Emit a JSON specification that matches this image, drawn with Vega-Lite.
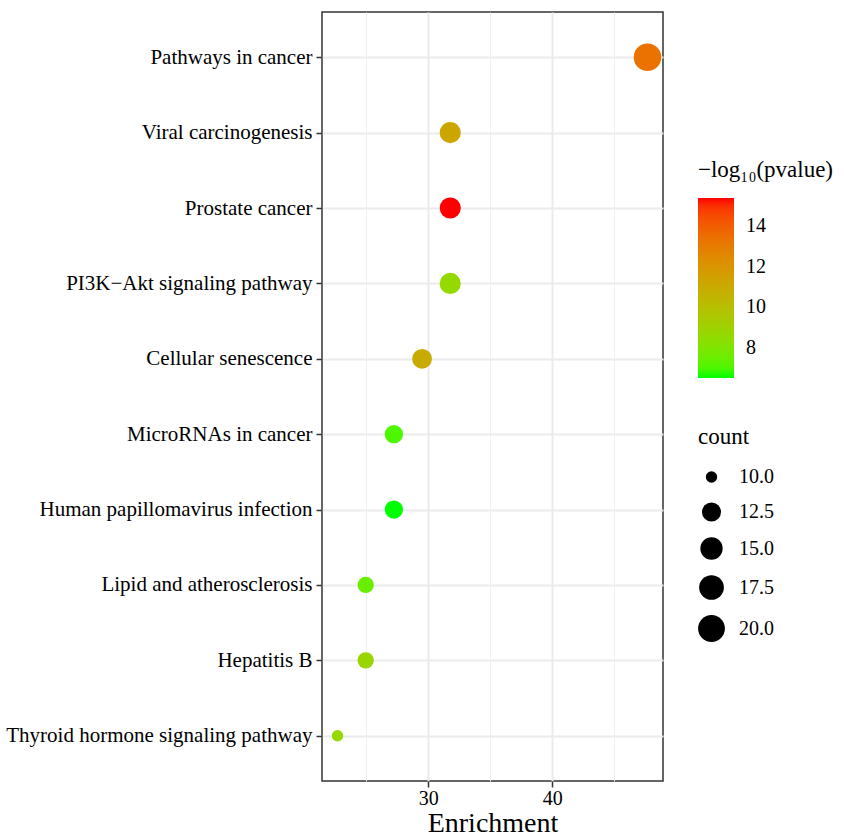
{
  "$schema": "https://vega.github.io/schema/vega-lite/v6.json",
  "autosize": {"type": "none"},
  "width": 341,
  "height": 769,
  "padding": {"left": 322, "top": 12, "right": 181, "bottom": 57},
  "background": "white",
  "config": {
    "font": "Liberation Serif",
    "view": {"stroke": "#333333", "strokeWidth": 1.5},
    "axis": {
      "labelFont": "Liberation Serif",
      "titleFont": "Liberation Serif",
      "labelColor": "#000000",
      "titleColor": "#000000",
      "labelFontSize": 20,
      "domain": false,
      "tickColor": "#333333",
      "tickWidth": 1.5,
      "tickSize": 6,
      "gridColor": "#EBEBEB",
      "gridWidth": 2
    },
    "legend": {
      "labelFont": "Liberation Serif",
      "titleFont": "Liberation Serif",
      "labelFontSize": 20,
      "titleFontSize": 22,
      "titleFontWeight": "normal",
      "labelColor": "#000000",
      "titleColor": "#000000"
    }
  },
  "data": {
    "values": [
      {"pathway": "Pathways in cancer", "enrichment": 47.67, "count": 21, "logp": 13.4},
      {"pathway": "Viral carcinogenesis", "enrichment": 31.78, "count": 14, "logp": 11.2},
      {"pathway": "Prostate cancer", "enrichment": 31.78, "count": 14, "logp": 15.4},
      {"pathway": "PI3K−Akt signaling pathway", "enrichment": 31.78, "count": 14, "logp": 8.6},
      {"pathway": "Cellular senescence", "enrichment": 29.51, "count": 13, "logp": 11.0},
      {"pathway": "MicroRNAs in cancer", "enrichment": 27.24, "count": 12, "logp": 7.0},
      {"pathway": "Human papillomavirus infection", "enrichment": 27.24, "count": 12, "logp": 6.52},
      {"pathway": "Lipid and atherosclerosis", "enrichment": 24.97, "count": 11, "logp": 7.5},
      {"pathway": "Hepatitis B", "enrichment": 24.97, "count": 11, "logp": 8.8},
      {"pathway": "Thyroid hormone signaling pathway", "enrichment": 22.7, "count": 10, "logp": 8.6}
    ]
  },
  "layer": [
    {
      "mark": {"type": "point", "opacity": 0},
      "encoding": {
        "x": {
          "field": "enrichment", "type": "quantitative",
          "scale": {"domain": [21.45, 48.92], "nice": false, "zero": false},
          "axis": {"orient": "top", "values": [25, 35, 45], "labels": false, "ticks": false, "domain": false, "title": null, "grid": true, "gridWidth": 1, "gridColor": "#EFEFEF"}
        },
        "y": {
          "field": "pathway", "type": "nominal",
          "sort": ["Pathways in cancer", "Viral carcinogenesis", "Prostate cancer", "PI3K−Akt signaling pathway", "Cellular senescence", "MicroRNAs in cancer", "Human papillomavirus infection", "Lipid and atherosclerosis", "Hepatitis B", "Thyroid hormone signaling pathway"],
          "scale": {"type": "point", "padding": 0.6},
          "axis": {"title": null, "labelPadding": 4, "grid": true, "labelLimit": 400, "labelFontSize": 21, "labelColor": "#000000"}
        }
      }
    },
    {
      "mark": {"type": "circle", "opacity": 1},
      "encoding": {
        "x": {
          "field": "enrichment", "type": "quantitative",
          "scale": {"domain": [21.45, 48.92], "nice": false, "zero": false},
          "axis": {"orient": "bottom", "values": [30, 40], "title": "Enrichment", "titleFontSize": 28, "titleFontWeight": "normal", "titlePadding": 1, "labelPadding": 1, "labelFontSize": 20, "grid": true}
        },
        "y": {
          "field": "pathway", "type": "nominal",
          "sort": ["Pathways in cancer", "Viral carcinogenesis", "Prostate cancer", "PI3K−Akt signaling pathway", "Cellular senescence", "MicroRNAs in cancer", "Human papillomavirus infection", "Lipid and atherosclerosis", "Hepatitis B", "Thyroid hormone signaling pathway"],
          "scale": {"type": "point", "padding": 0.6},
          "axis": {"title": null, "labelPadding": 4, "grid": true, "labelLimit": 400, "labelFontSize": 21, "labelColor": "#000000"}
        },
        "color": {
          "field": "logp", "type": "quantitative",
          "scale": {"range": ["#00FF00", "#FF0000"], "interpolate": "lab", "nice": false, "zero": false},
          "legend": {
            "title": "−log₁₀(pvalue)",
            "orient": "none", "legendX": 376, "legendY": 147,
            "gradientLength": 180, "gradientThickness": 36,
            "values": [8, 10, 12, 14],
            "labelOffset": 12,
            "labelFontSize": 20,
            "titleFontSize": 23,
            "titlePadding": 16,
            "gradientStrokeWidth": 0
          }
        },
        "size": {
          "field": "count", "type": "quantitative",
          "scale": {"type": "linear", "domain": [10, 11, 12, 13, 14, 15, 17.5, 20, 21], "range": [130, 265, 335, 393, 447, 497, 612, 718, 760]},
          "legend": {
            "title": "count",
            "orient": "none", "legendX": 376, "legendY": 414,
            "values": [10, 12.5, 15, 17.5, 20],
            "format": ".1f",
            "labelFontSize": 20,
            "titleFontSize": 23,
            "symbolFillColor": "#000000",
            "symbolStrokeWidth": 0,
            "labelOffset": 14,
            "rowPadding": 15,
            "titlePadding": 18
          }
        }
      }
    }
  ],
  "resolve": {"axis": {"x": "independent"}}
}
